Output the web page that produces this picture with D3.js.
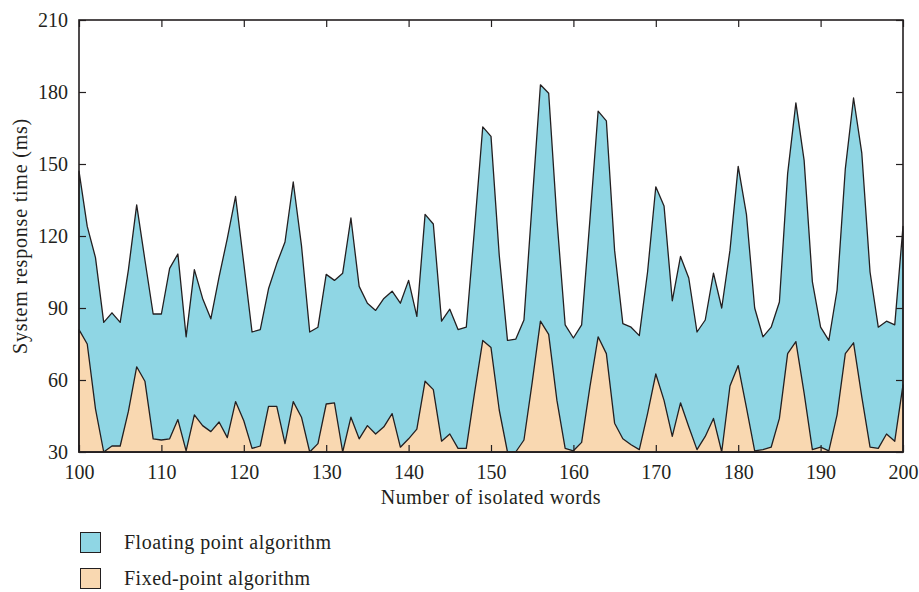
<!DOCTYPE html>
<html>
<head>
<meta charset="utf-8">
<script src="https://cdn.jsdelivr.net/npm/d3@7"></script>
<style>
  body { margin: 0; background: #fff; }
  text { font-family: "Liberation Serif", "DejaVu Serif", serif; fill: #231f20; }
</style>
</head>
<body>
<div id="chart"></div>
<script>
// Number of isolated words (x) 100..200
const words = d3.range(100, 201);

// System response time (ms), floating point algorithm
const floatingTimes = [
  147, 124, 111, 84, 88, 84, 106, 133, 110, 87.5,
  87.5, 106.5, 112.5, 78, 106, 94, 85.5, 103, 119, 136.5,
  108.5, 80, 81, 98, 108.5, 117.5, 142.5, 116, 80, 82,
  104, 101.5, 104.5, 127.5, 99, 92, 89, 94, 97, 92,
  101.5, 86.5, 129, 125, 84.5, 89.5, 81, 82, 123, 165.5,
  161.5, 112, 76.5, 77, 85, 134, 183, 179.5, 127, 83,
  77.5, 83, 126.5, 172, 168, 114, 83.5, 82, 78.5, 105,
  140.5, 132.5, 93, 111.5, 102.5, 80, 85, 104.5, 90, 114,
  149, 129, 90, 78, 82, 92.5, 146, 175.5, 151.5, 101,
  82, 76.5, 97.5, 148, 177.5, 154.5, 105, 82, 84.5, 83,
  124
];

// System response time (ms), fixed-point algorithm
const fixedTimes = [
  81, 75, 48, 30, 32.5, 32.5, 47, 65.5, 59.5, 35.5,
  35, 35.5, 43.5, 30.5, 45.5, 41, 38.5, 42.5, 36, 51,
  43, 31.5, 32.5, 49, 49, 33.5, 51, 44.5, 30, 33.5,
  50, 50.5, 30, 44.5, 35.5, 41, 37.5, 40.5, 46, 32,
  35.5, 39.5, 59.5, 56, 34.5, 37.5, 31.5, 31.5, 54.5, 76.5,
  73.5, 47.5, 30, 30, 35, 59, 84.5, 79, 51.5, 31.5,
  30.5, 34, 57, 78, 71, 42, 35.5, 33, 31, 46,
  62.5, 51.5, 36.5, 50.5, 40.5, 31, 36.5, 44, 30, 57.5,
  66, 48.5, 30.5, 31, 32, 44, 71, 76, 54.5, 31,
  32, 30.5, 45.5, 71, 75.5, 53, 32, 31.5, 37.5, 34.5,
  58
];

const yTicks = [30, 60, 90, 120, 150, 180, 210];
const xTicks = d3.range(100, 201, 10);

const series = [
  { name: "Floating point algorithm", values: floatingTimes, color: "#8fd6e4" },
  { name: "Fixed-point algorithm", values: fixedTimes, color: "#f9d8b1" }
];

// Set the dimensions and margins of the graph
const W = 919, H = 592;
const margin = { top: 20, right: 16, bottom: 140, left: 79 },
      width = W - margin.left - margin.right,
      height = H - margin.top - margin.bottom;

const svg = d3.select("#chart")
    .append("svg")
    .attr("width", W)
    .attr("height", H);

const g = svg.append("g")
    .attr("transform", `translate(${margin.left},${margin.top})`);

// Set the scales
const x = d3.scaleLinear().domain([100, 200]).range([0, width]);
const y = d3.scaleLinear().domain([30, 210]).range([height, 0]);

// Areas: floating first, fixed-point drawn over it
const area = d3.area()
    .x((d, i) => x(words[i]))
    .y0(y(30))
    .y1(d => y(d));

series.forEach(s => {
    g.append("path")
        .datum(s.values)
        .attr("fill", s.color)
        .attr("stroke", "#231f20")
        .attr("stroke-width", 1.3)
        .attr("stroke-linejoin", "round")
        .attr("d", area);
});

// Frame with inward ticks
const tickLen = 7;
g.append("g")
    .call(d3.axisLeft(y).tickValues(yTicks).tickSizeInner(-tickLen).tickSizeOuter(0).tickPadding(11))
    .call(a => a.select(".domain").remove());
g.append("g")
    .attr("transform", `translate(${width},0)`)
    .call(d3.axisRight(y).tickValues(yTicks).tickSizeInner(-tickLen).tickSizeOuter(0).tickFormat(""))
    .call(a => a.select(".domain").remove());
g.append("g")
    .attr("transform", `translate(0,${height})`)
    .call(d3.axisBottom(x).tickValues(xTicks).tickSizeInner(-tickLen).tickSizeOuter(0).tickPadding(13))
    .call(a => a.select(".domain").remove());
g.append("g")
    .call(d3.axisTop(x).tickValues(xTicks).tickSizeInner(-tickLen).tickSizeOuter(0).tickFormat(""))
    .call(a => a.select(".domain").remove());

g.selectAll(".tick line").attr("stroke", "#231f20").attr("stroke-width", 1.2);
g.selectAll(".tick text")
    .style("font-family", "'Liberation Serif', 'DejaVu Serif', serif")
    .style("font-size", "20px")
    .attr("fill", "#231f20");

g.append("rect")
    .attr("x", 0).attr("y", 0)
    .attr("width", width).attr("height", height)
    .attr("fill", "none")
    .attr("stroke", "#231f20")
    .attr("stroke-width", 1.6);

// Axis labels
g.append("text")
    .attr("x", width / 2)
    .attr("y", height + 52)
    .attr("text-anchor", "middle")
    .style("font-size", "20px")
    .style("letter-spacing", "0.5px")
    .text("Number of isolated words");

g.append("text")
    .attr("transform", "rotate(-90)")
    .attr("x", -height / 2)
    .attr("y", -margin.left + 27)
    .attr("text-anchor", "middle")
    .style("font-size", "20px")
    .style("letter-spacing", "0.8px")
    .text("System response time (ms)");

// Legend
const legend = svg.append("g").attr("transform", "translate(80,532)");
series.forEach((s, i) => {
    const row = legend.append("g").attr("transform", `translate(0,${i * 36})`);
    row.append("rect")
        .attr("x", 0.5).attr("y", 0.5)
        .attr("width", 20).attr("height", 20)
        .attr("fill", s.color)
        .attr("stroke", "#231f20")
        .attr("stroke-width", 1);
    row.append("text")
        .attr("x", 44)
        .attr("y", 17)
        .style("font-size", "20px")
        .style("letter-spacing", "0.5px")
        .text(s.name);
});
</script>
</body>
</html>
